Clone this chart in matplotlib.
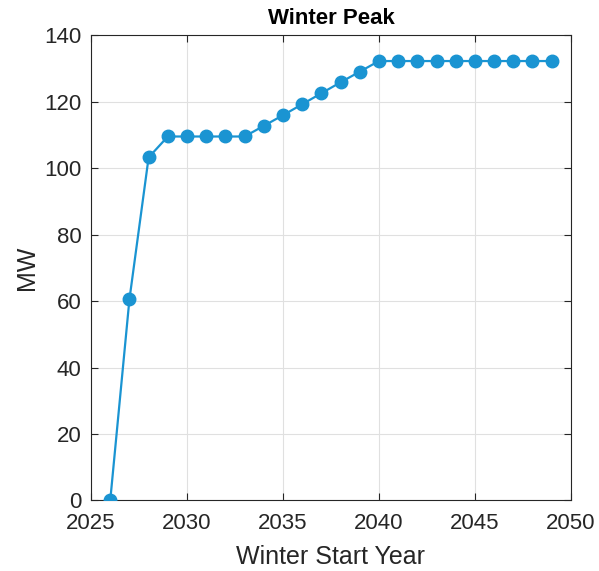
import numpy as np
import matplotlib.pyplot as plt

plt.rcParams['font.family'] = ['Liberation Sans', 'DejaVu Sans']

years = list(range(2026, 2050))
peak_mw = [0.0, 60.5, 103.2, 109.5, 109.5, 109.5, 109.5, 109.5, 112.7, 115.9,
           119.2, 122.5, 125.8, 129.0, 132.2, 132.2, 132.2, 132.2, 132.2, 132.2,
           132.2, 132.2, 132.2, 132.2]

xticks = [2025, 2030, 2035, 2040, 2045, 2050]
yticks = [0, 20, 40, 60, 80, 100, 120, 140]

fig = plt.figure(figsize=(5.99, 5.71), dpi=100)
ax = fig.add_axes([0.152, 0.1235, 0.801, 0.815])

ax.plot(years, peak_mw, '-o', color='#1a94d2', lw=1.6, ms=9, zorder=3)

ax.set_xlim(2025, 2050)
ax.set_ylim(0, 140)
ax.set_xticks(xticks)
ax.set_yticks(yticks)
ax.grid(True, color='#e0e0e0', lw=0.8)
ax.set_axisbelow(True)

for s in ax.spines.values():
    s.set_color('#262626')
    s.set_linewidth(0.8)
ax.tick_params(direction='in', top=True, right=True, length=5, width=0.8,
               colors='#262626', labelsize=16)
ax.tick_params(axis='x', pad=9)
ax.tick_params(axis='y', pad=7)

ax.set_title('Winter Peak', fontsize=16, fontweight='bold', pad=8)
ax.set_xlabel('Winter Start Year', fontsize=18, color='#262626', labelpad=8)
ax.set_ylabel('MW', fontsize=18, color='#262626', labelpad=4)

fig.savefig('out.png', dpi=100)
